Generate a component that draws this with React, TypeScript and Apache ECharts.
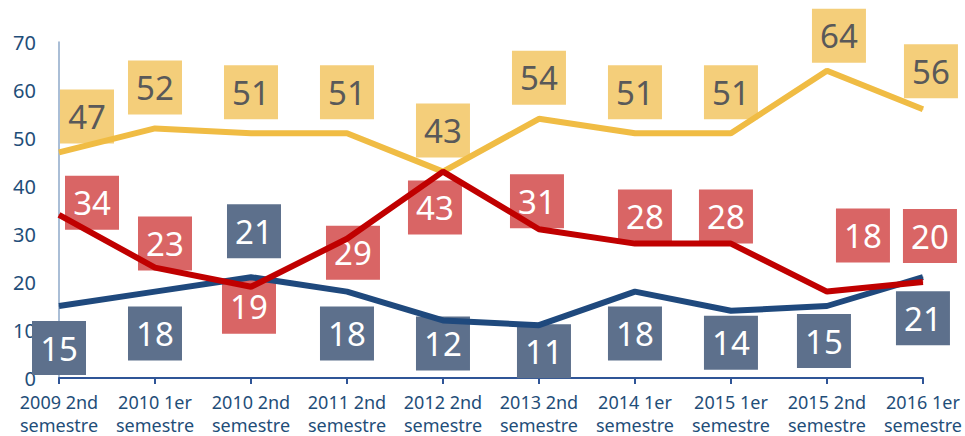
import React, { useEffect, useRef } from "react";
import * as echarts from "echarts";

const categories = [
  "2009 2nd\nsemestre",
  "2010 1er\nsemestre",
  "2010 2nd\nsemestre",
  "2011 2nd\nsemestre",
  "2012 2nd\nsemestre",
  "2013 2nd\nsemestre",
  "2014 1er\nsemestre",
  "2015 1er\nsemestre",
  "2015 2nd\nsemestre",
  "2016 1er\nsemestre",
];

const yellowValues = [47, 52, 51, 51, 43, 54, 51, 51, 64, 56];
const redValues = [34, 23, 19, 29, 43, 31, 28, 28, 18, 20];
const blueValues = [15, 18, 21, 18, 12, 11, 18, 14, 15, 21];

// label box offsets (layout only)
const yellowOffsets = [[28, -36], [0, -41], [0, -41], [0, -41], [0, -41], [0, -41], [0, -41], [0, -41], [12, -35], [8, -38]];
const redOffsets = [[33, -12], [10, -24], [-2, 20], [6, 14], [-8, 36], [-2, -28], [10, -27], [-5, -27], [36, -56], [7, -46]];
const blueOffsets = [[0, 42], [0, 42], [3, -46], [0, 42], [0, 23], [5, 26], [0, 42], [0, 32], [-3, 35], [0, 41]];

const FONT = "'Noto Sans', 'Open Sans', sans-serif";

function labelSeries(values: number[], offsets: number[][], box: string, text: string) {
  return {
    type: "line",
    z: 1,
    silent: true,
    symbol: "circle",
    symbolSize: 1,
    showSymbol: true,
    itemStyle: { color: box },
    lineStyle: { opacity: 0 },
    emphasis: { disabled: true },
    data: values.map((v, i) => ({
      value: v,
      label: {
        show: true,
        position: "inside",
        offset: offsets[i],
        backgroundColor: box,
        color: text,
        fontFamily: FONT,
        fontSize: 33,
        width: 54,
        height: 54,
        lineHeight: 54,
        align: "center",
        verticalAlign: "middle",
      },
    })),
  };
}

function lineSeries(values: number[], color: string) {
  return {
    type: "line",
    z: 2,
    silent: true,
    symbol: "none",
    lineStyle: { color, width: 6 },
    emphasis: { disabled: true },
    data: values,
  };
}

export default function App() {
  const ref = useRef<HTMLDivElement>(null);
  useEffect(() => {
    if (!ref.current) return;
    const chart = echarts.init(ref.current, null, { renderer: "svg" });
    chart.setOption({
      animation: false,
      backgroundColor: "#ffffff",
      grid: { left: 59, right: 42, top: 42, bottom: 55 },
      xAxis: {
        type: "category",
        boundaryGap: false,
        data: categories,
        axisLine: { lineStyle: { color: "#2F5597", width: 2 } },
        axisTick: { show: true, length: 6, lineStyle: { color: "#2F5597", width: 2 } },
        axisLabel: {
          color: "#1F4E79",
          fontFamily: FONT,
          fontSize: 18,
          lineHeight: 23,
          margin: 12,
          interval: 0,
        },
        splitLine: { show: false },
      },
      yAxis: {
        type: "value",
        min: 0,
        max: 70,
        interval: 10,
        axisLine: { show: true, lineStyle: { color: "#8EA9C8", width: 1.5 } },
        axisTick: { show: false },
        splitLine: { show: false },
        axisLabel: {
          color: "#1F4E79",
          fontFamily: FONT,
          fontSize: 20,
          lineHeight: 16,
          padding: [0, 0, 4, 0],
          margin: 23,
        },
      },
      series: [
        labelSeries(blueValues, blueOffsets, "#5D708C", "#ffffff"),
        labelSeries(yellowValues, yellowOffsets, "#F4CE7A", "#595959"),
        labelSeries(redValues, redOffsets, "#D96565", "#ffffff"),
        lineSeries(blueValues, "#1F497D"),
        lineSeries(yellowValues, "#F0BC44"),
        lineSeries(redValues, "#C00000"),
      ],
    });
    return () => chart.dispose();
  }, []);
  return (
    <div
      ref={ref}
      style={{ position: "fixed", left: 0, top: 0, width: 965, height: 436 }}
    />
  );
}
